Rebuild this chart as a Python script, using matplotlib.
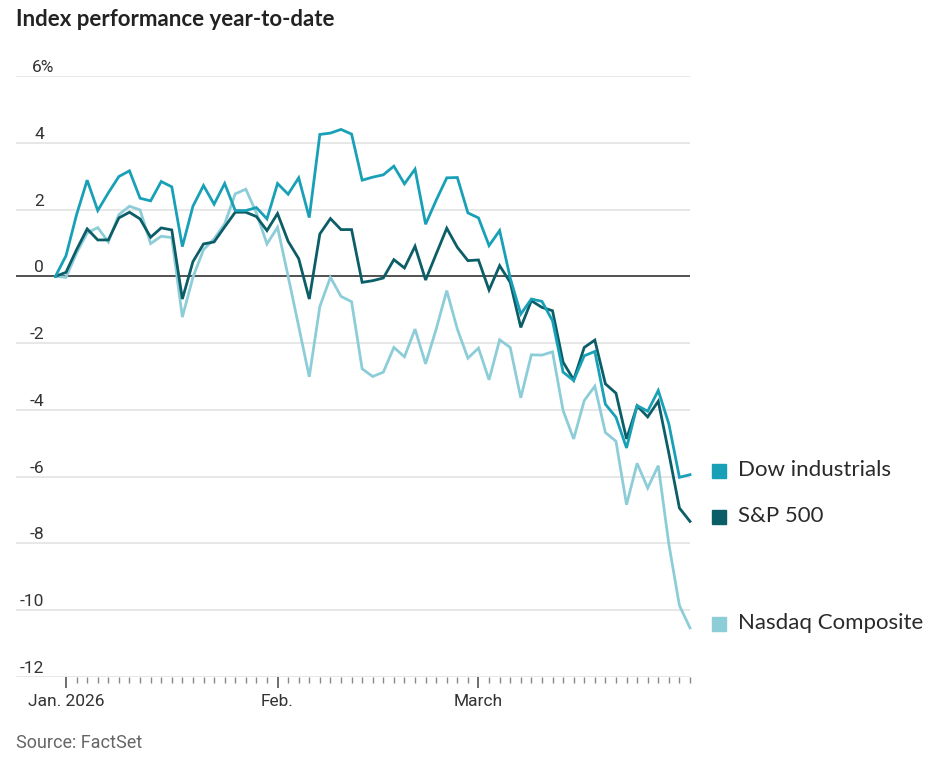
import matplotlib.pyplot as plt
import matplotlib.transforms as mtransforms
import pandas as pd

# trading days, Dec 31 2025 is the base (0%)
holidays = ['2026-01-01', '2026-01-19', '2026-02-16']
dates = [d for d in pd.bdate_range('2025-12-31', '2026-03-30') if d.strftime('%Y-%m-%d') not in holidays]

dow = [0, 0.62, 1.85, 2.88, 1.97, 2.50, 2.99, 3.16, 2.34, 2.26,
       2.84, 2.68, 0.89, 2.10, 2.72, 2.16, 2.78, 1.97, 1.97, 2.06,
       1.72, 2.78, 2.46, 2.95, 1.76, 4.25, 4.29, 4.40, 4.26, 2.88,
       2.97, 3.04, 3.30, 2.77, 3.21, 1.56, 2.28, 2.95, 2.96, 1.90,
       1.75, 0.92, 1.37, -0.05, -1.13, -0.68, -0.75, -1.33, -2.87, -3.12,
       -2.38, -2.25, -3.83, -4.22, -5.14, -3.87, -4.04, -3.42, -4.42, -6.02,
       -5.94]
sp500 = [0, 0.12, 0.80, 1.42, 1.09, 1.09, 1.75, 1.92, 1.72, 1.17,
         1.45, 1.39, -0.68, 0.44, 0.97, 1.03, 1.48, 1.92, 1.92, 1.79,
         1.37, 1.88, 1.05, 0.53, -0.68, 1.27, 1.73, 1.40, 1.40, -0.18,
         -0.13, -0.05, 0.50, 0.25, 0.90, -0.11, 0.67, 1.44, 0.87, 0.47,
         0.49, -0.41, 0.32, -0.18, -1.53, -0.73, -0.93, -1.03, -2.57, -3.10,
         -2.13, -1.91, -3.22, -3.50, -4.87, -3.88, -4.21, -3.74, -5.30, -6.94,
         -7.34]
nasdaq = [0, -0.03, 0.70, 1.30, 1.46, 1.03, 1.85, 2.10, 1.99, 0.98,
          1.20, 1.16, -1.22, -0.03, 0.80, 1.12, 1.57, 2.47, 2.61, 1.90,
          0.97, 1.47, 0.00, -1.50, -3.01, -0.90, -0.03, -0.60, -0.76, -2.77,
          -3.00, -2.87, -2.13, -2.41, -1.58, -2.62, -1.58, -0.43, -1.58, -2.45,
          -2.15, -3.10, -1.90, -2.13, -3.64, -2.35, -2.36, -2.26, -4.02, -4.87,
          -3.72, -3.29, -4.68, -4.94, -6.84, -5.60, -6.34, -5.67, -8.02, -9.86,
          -10.53]

names = ['Dow industrials', 'S&P 500', 'Nasdaq Composite']
colors = ['#18a0b7', '#0b5e67', '#8dcdd8']
y_ticks = [6, 4, 2, 0, -2, -4, -6, -8, -10, -12]
month_labels = ['Jan. 2026', 'Feb.', 'March']

narrow = ['Liberation Sans Narrow', 'Roboto', 'DejaVu Sans']
human = ['Lato', 'DejaVu Sans']

fig = plt.figure(figsize=(9.32, 7.58), dpi=100)
ax = fig.add_axes([16 / 932, 1 - 677 / 758, 674 / 932, 601 / 758])

x = list(range(len(dates)))
ax.set_xlim(-3.73, 60.0)
ax.set_ylim(-12, 6)

# gridlines
for v in y_ticks:
    if v == 0:
        ax.axhline(v, color='#333333', lw=1.2, zorder=3)
    else:
        ax.axhline(v, color='#e3e3e3', lw=1.2, zorder=1)

# y labels sit above the gridlines
trans = mtransforms.blended_transform_factory(ax.transAxes, ax.transData)
for v in y_ticks:
    lab = f'{v}%' if v == 6 else f'{v}'
    xpos = 28 / 674 if v != 6 else 16 / 674
    ax.annotate(lab, (xpos, v), xycoords=trans, xytext=(0, 4), textcoords='offset pixels',
                ha='left' if v == 6 else 'right', va='baseline', fontsize=12.5,
                family=narrow, color='#333333')

# lines (Nasdaq drawn first, Dow on top)
for vals, c in [(nasdaq, colors[2]), (sp500, colors[1]), (dow, colors[0])]:
    ax.plot(x, vals, color=c, lw=2.0, zorder=4, clip_on=False, solid_joinstyle='miter')

# end labels with colour squares
for vals, name, c in zip([dow, sp500, nasdaq], names, colors):
    ax.annotate(name, (x[-1], vals[-1]), xytext=(48, 5), textcoords='offset pixels',
                ha='left', va='center', fontsize=16, family=human, color='#2a2a2a',
                annotation_clip=False)
    px, py = ax.transData.transform((x[-1], vals[-1]))
    fig.patches.append(plt.Rectangle(((px + 22) / 932, (py - 3) / 758),
                                     14 / 932, 14 / 758, transform=fig.transFigure,
                                     color=c, zorder=5))

# x ticks: one per trading day, longer ones at the first day of each month
months = [d.month for d in dates]
major = [i for i in range(1, len(dates)) if months[i] != months[i - 1]]
ax.set_xticks(major)
ax.set_xticklabels(month_labels, family=narrow, fontsize=12.5, color='#333333')
ax.set_xticks(x[1:], minor=True)
ax.tick_params(axis='x', which='major', length=8, width=1.2, color='#555555', pad=4)
ax.tick_params(axis='x', which='minor', length=4, width=1, color='#888888')
ax.tick_params(axis='y', left=False, labelleft=False)
for s in ax.spines.values():
    s.set_visible(False)

fig.text(16 / 932, 1 - 20 / 758, 'Index performance year-to-date', fontsize=16,
         fontweight='bold', family=human, color='#222222', ha='left', va='center')
fig.text(16 / 932, 1 - 743 / 758, 'Source: FactSet', fontsize=13, family=narrow,
         color='#666666', ha='left', va='center')

plt.savefig('out.png', dpi=100)
